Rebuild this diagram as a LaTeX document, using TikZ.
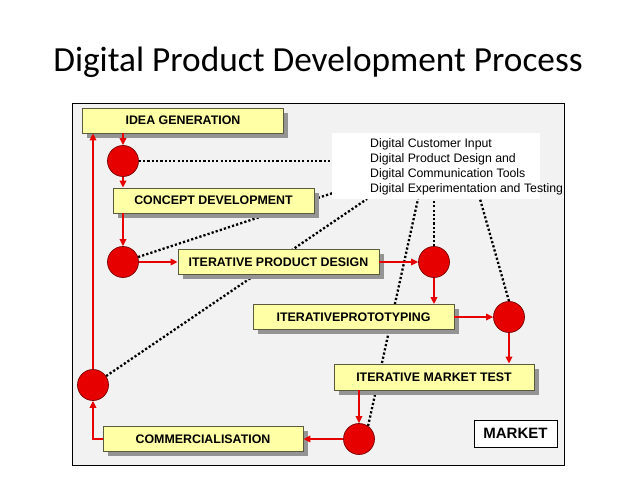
\documentclass[tikz,border=0pt]{standalone}
\usepackage{fontspec}
\setmainfont{Liberation Sans}
\newfontfamily\titlefont{Carlito}
\usetikzlibrary{arrows.meta,shadows}
\pgfdeclarelayer{bgzero}
\pgfdeclarelayer{bgone}
\pgfsetlayers{bgzero,bgone,main}
\definecolor{boxfill}{HTML}{FFFFA6}
\definecolor{boxline}{HTML}{5A5A3C}
\definecolor{panel}{HTML}{F2F2F2}
\definecolor{hotred}{HTML}{E60000}
\definecolor{hubline}{HTML}{7A0000}
\begin{document}
\begin{tikzpicture}[x=1pt,y=-1pt,
  stage/.style={draw=boxline, line width=0.8pt, fill=boxfill, minimum width=201pt,
    minimum height=25pt, inner sep=0pt, font=\fontsize{12.4}{14}\selectfont\bfseries,
    drop shadow={shadow xshift=4.5pt, shadow yshift=-4.5pt, fill=black!42, opacity=1}},
  hub/.style={circle, draw=hubline, line width=0.7pt, fill=hotred, minimum size=31pt, inner sep=0pt},
  flow/.style={draw=hotred, line width=2.4pt, -{Triangle[length=7pt,width=6.5pt]}},
  link/.style={draw=black, line width=2.3pt, dash pattern=on 2.2pt off 2.1pt}
]
\useasboundingbox (0,0) rectangle (638,479);

\node[font=\titlefont\fontsize{35.3}{40}\selectfont] (title) at (318,62) {Digital Product Development Process};

\begin{pgfonlayer}{bgzero}
\node[draw=black, line width=1pt, fill=panel, minimum width=492pt, minimum height=362pt, inner sep=0pt] (frame) at (318,284) {};
\end{pgfonlayer}

\node[fill=white, minimum width=208pt, minimum height=66pt, inner sep=0pt] (info) at (436,166) {};
\node[anchor=north west, align=left, inner sep=0pt, font=\fontsize{12.3}{15}\selectfont] (infotext) at (370,138)
  {Digital Customer Input\\Digital Product Design and\\Digital Communication Tools\\Digital Experimentation and Testing};

\node[stage] (idea) at (183,120.5) {IDEA GENERATION};
\node[stage] (concept) at (213.5,200.5) {CONCEPT DEVELOPMENT};
\node[stage] (ipd) at (278.5,262) {ITERATIVE PRODUCT DESIGN};
\node[stage] (proto) at (353.5,317) {ITERATIVEPROTOTYPING};
\node[stage, minimum width=200pt, minimum height=26pt] (mtest) at (434,377) {ITERATIVE MARKET TEST};
\node[stage, minimum width=200pt] (comm) at (203,439) {COMMERCIALISATION};
\node[draw=black, fill=white, line width=0.8pt, minimum width=83pt, minimum height=27pt, inner sep=0pt,
  font=\fontsize{15}{18}\selectfont\bfseries] (market) at (515.5,433.5) {MARKET};

\node[hub] (c1) at (123,161) {};
\node[hub] (c2) at (123,262) {};
\node[hub] (c3) at (434,262) {};
\node[hub] (c4) at (509,317) {};
\node[hub] (c5) at (359,439) {};
\node[hub] (c6) at (93,385) {};

\coordinate (e2) at (333,193);
\coordinate (e6) at (367,199);
\coordinate (e5) at (418,199);
\coordinate (e3) at (434,199);
\coordinate (e4) at (480,199);

\begin{pgfonlayer}{bgone}
\draw[link] (c1.east) -- (info.west |- c1);
\draw[link] (c2) -- (e2);
\draw[link] (c6) -- (e6);
\draw[link] (c5.55) -- (e5);
\draw[link] (c3.north) -- (e3);
\draw[link] (c4.north) -- (e4);
\end{pgfonlayer}

\draw[flow] (idea.south -| c1) -- (c1.north);
\draw[flow] (c1.south) -- (concept.north -| c1);
\draw[flow] (concept.south -| c2) -- (c2.north);
\draw[flow] (c2.east) -- (ipd.west);
\draw[flow] (ipd.east) -- (c3.west);
\draw[flow] (c3.south) -- (proto.north -| c3);
\draw[flow] (proto.east) -- (c4.west);
\draw[flow] (c4.south) -- (mtest.north -| c4);
\draw[flow] (mtest.south -| c5) -- (c5.north);
\draw[flow] (c5.west) -- (comm.east);
\draw[flow] (comm.west) -| (c6.south);
\draw[flow] (c6.north) -- (idea.south -| c6);
\end{tikzpicture}
\end{document}
